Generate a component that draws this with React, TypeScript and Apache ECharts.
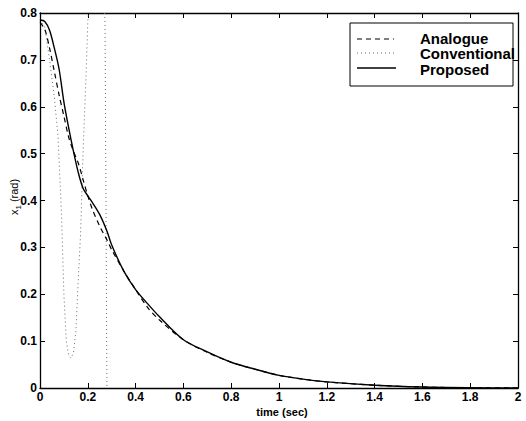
import React, { useEffect, useRef } from "react";
import * as echarts from "echarts";

// time axis (sec) for Analogue / Proposed
const timeAP = [0, 0.02, 0.04, 0.06, 0.08, 0.1, 0.12, 0.14, 0.16, 0.18, 0.2, 0.22, 0.25, 0.28, 0.3, 0.35, 0.4, 0.45, 0.5, 0.6, 0.7, 0.8, 0.9, 1.0, 1.1, 1.2, 1.4, 1.6, 1.8, 2.0];
const analogue = [0.78, 0.765, 0.725, 0.675, 0.625, 0.58, 0.535, 0.505, 0.48, 0.445, 0.41, 0.38, 0.345, 0.316, 0.295, 0.25, 0.21, 0.172, 0.145, 0.103, 0.076, 0.055, 0.04, 0.027, 0.019, 0.013, 0.006, 0.002, 0.0005, 0];
const proposed = [0.785, 0.782, 0.763, 0.725, 0.68, 0.61, 0.555, 0.505, 0.46, 0.426, 0.41, 0.395, 0.37, 0.335, 0.305, 0.25, 0.21, 0.18, 0.152, 0.103, 0.077, 0.055, 0.04, 0.027, 0.019, 0.013, 0.006, 0.002, 0.0005, 0];

// Conventional (unstable) response
const timeConv = [0, 0.02, 0.04, 0.06, 0.075, 0.09, 0.1, 0.11, 0.12, 0.13, 0.14, 0.15, 0.16, 0.17, 0.18, 0.193, 0.2, 0.22, 0.245, 0.262, 0.272, 0.276, 0.28, 0.285];
const conventional = [0.785, 0.77, 0.7, 0.62, 0.54, 0.37, 0.2, 0.1, 0.07, 0.064, 0.075, 0.12, 0.23, 0.33, 0.5, 0.67, 0.78, 0.95, 1.0, 0.9, 0.78, 0.4, 0.0, -0.3];

const xTicks = [0, 0.2, 0.4, 0.6, 0.8, 1, 1.2, 1.4, 1.6, 1.8, 2];
const yTicks = [0, 0.1, 0.2, 0.3, 0.4, 0.5, 0.6, 0.7, 0.8];

const FONT = "Liberation Sans, Arial, Helvetica, sans-serif";

export default function App() {
  const ref = useRef<HTMLDivElement>(null);
  useEffect(() => {
    if (!ref.current) return;
    const chart = echarts.init(ref.current, null, { renderer: "svg" });
    const pair = (ts: number[], vs: number[]) => ts.map((t, i) => [t, vs[i]]);
    const tickStyle = { show: true, inside: true, length: 5, lineStyle: { color: "#000", width: 1 } };
    const lineStyle = { show: true, lineStyle: { color: "#000", width: 1.3 } };
    const xMin = xTicks[0], xMax = xTicks[xTicks.length - 1];
    const yMin = yTicks[0], yMax = yTicks[yTicks.length - 1];
    chart.setOption({
      animation: false,
      backgroundColor: "#fff",
      grid: { left: 40, right: 8, top: 13, bottom: 33, containLabel: false, outerBoundsMode: "none" },
      xAxis: [
        {
          type: "value", min: xMin, max: xMax, interval: 0.2, position: "bottom",
          axisLine: { ...lineStyle, onZero: false }, axisTick: tickStyle, splitLine: { show: false },
          axisLabel: { color: "#000", fontFamily: FONT, fontWeight: "bold", fontSize: 12, margin: 3 },
        },
        {
          type: "value", min: xMin, max: xMax, interval: 0.2, position: "top",
          axisLine: { ...lineStyle, onZero: false }, axisTick: tickStyle, splitLine: { show: false },
          axisLabel: { show: false },
        },
      ],
      yAxis: [
        {
          type: "value", min: yMin, max: yMax, interval: 0.1, position: "left",
          axisLine: { ...lineStyle, onZero: false }, axisTick: tickStyle, splitLine: { show: false },
          axisLabel: { color: "#000", fontFamily: FONT, fontWeight: "bold", fontSize: 12, margin: 3,
            formatter: (v: number) => (Math.round(v * 10) / 10).toString() },
        },
        {
          type: "value", min: yMin, max: yMax, interval: 0.1, position: "right",
          axisLine: { ...lineStyle, onZero: false }, axisTick: tickStyle, splitLine: { show: false },
          axisLabel: { show: false },
        },
      ],
      series: [
        {
          name: "Conventional", type: "line", data: pair(timeConv, conventional), showSymbol: false,
          clip: true, lineStyle: { color: "#6a6a6a", width: 1, type: [1, 3] }, z: 1,
        },
        {
          name: "Analogue", type: "line", data: pair(timeAP, analogue), showSymbol: false, smooth: 0.3,
          clip: true, lineStyle: { color: "#000", width: 1.2, type: [5, 4] }, z: 2,
        },
        {
          name: "Proposed", type: "line", data: pair(timeAP, proposed), showSymbol: false, smooth: 0.3,
          clip: true, lineStyle: { color: "#000", width: 1.4, type: "solid" }, z: 3,
        },
      ],
      graphic: [
        {
          type: "text", x: 14, y: 197, rotation: Math.PI / 2,
          style: {
            text: "{x|x}{s|1}{x| (rad)}", align: "center", verticalAlign: "middle", fill: "#000",
            rich: {
              x: { fontFamily: FONT, fontSize: 11, fill: "#000", verticalAlign: "bottom" },
              s: { fontFamily: FONT, fontSize: 8, fill: "#000", verticalAlign: "bottom", padding: [0, 0, -3, 0] },
            },
          },
        },
        {
          type: "text", x: 282, y: 412,
          style: { text: "time (sec)", fill: "#000", font: `bold 11px ${FONT}`, align: "center", verticalAlign: "middle" },
        },
        { type: "rect", shape: { x: 350, y: 23, width: 163, height: 63 }, style: { fill: "#fff", stroke: "#000", lineWidth: 1 }, z: 10 },
        { type: "line", shape: { x1: 357, y1: 39, x2: 394, y2: 39 }, style: { stroke: "#000", lineWidth: 1.2, lineDash: [5, 4] }, z: 11 },
        { type: "line", shape: { x1: 357, y1: 53, x2: 394, y2: 53 }, style: { stroke: "#6a6a6a", lineWidth: 1, lineDash: [1, 3] }, z: 11 },
        { type: "line", shape: { x1: 357, y1: 68, x2: 396, y2: 68 }, style: { stroke: "#000", lineWidth: 1.4 }, z: 11 },
        { type: "text", x: 420, y: 38, style: { text: "Analogue", fill: "#000", font: `bold 15px ${FONT}`, verticalAlign: "middle" }, z: 12 },
        { type: "text", x: 420, y: 53.5, style: { text: "Conventional", fill: "#000", font: `bold 15px ${FONT}`, verticalAlign: "middle" }, z: 12 },
        { type: "text", x: 420, y: 69, style: { text: "Proposed", fill: "#000", font: `bold 15px ${FONT}`, verticalAlign: "middle" }, z: 12 },
      ],
    });
    return () => chart.dispose();
  }, []);
  return <div ref={ref} style={{ width: 526, height: 421, position: "fixed", left: 0, top: 0 }} />;
}
